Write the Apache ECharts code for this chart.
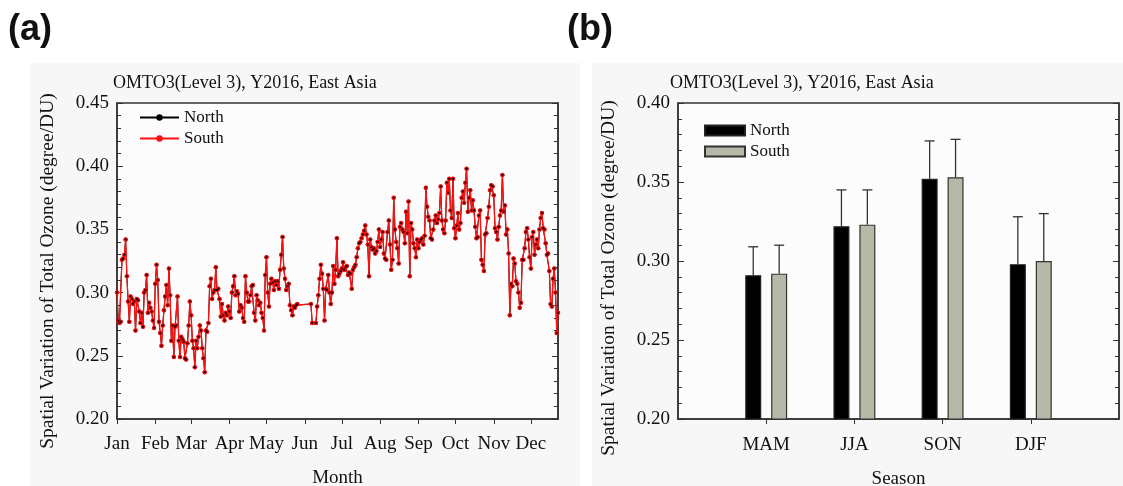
<!DOCTYPE html>
<html>
<head>
<meta charset="utf-8">
<script src="https://cdn.jsdelivr.net/npm/echarts@6/dist/echarts.min.js"></script>
<style>
  html, body { margin: 0; padding: 0; background: #fff; }
  #main { width: 1123px; height: 486px; }
</style>
</head>
<body>
<div id="main"></div>
<script>
// panel (a): daily spatial variation, day-of-year 1..358 (null = missing day)
const monthNames = ['Jan', 'Feb', 'Mar', 'Apr', 'May', 'Jun', 'Jul', 'Aug', 'Sep', 'Oct', 'Nov', 'Dec'];
const monthStartDay = [1, 32, 61, 92, 122, 153, 183, 214, 245, 275, 306, 336];

// North and South coincide at the resolution of the picture
const dailyOzone = [
  0.300, 0.278, 0.276, 0.277, 0.326, 0.327, 0.330, 0.342, 0.313, 0.293,
  0.277, 0.297, 0.295, 0.291, 0.293, 0.270, 0.295, 0.294, 0.285, 0.276,
  0.284, 0.273, 0.300, 0.302, 0.314, 0.284, 0.292, 0.288, 0.285, 0.278,
  0.272, 0.307, 0.322, 0.310, 0.277, 0.268, 0.258, 0.274, 0.286, 0.297,
  0.306, 0.290, 0.319, 0.298, 0.262, 0.274, 0.249, 0.273, 0.274, 0.297,
  0.262, 0.249, 0.265, 0.263, 0.261, 0.248, 0.247, 0.260, 0.274, 0.293,
  0.282, 0.262, 0.256, 0.241, 0.262, 0.256, 0.265, 0.274, 0.270, 0.256,
  0.248, 0.237, 0.270, 0.269, 0.276, 0.305, 0.311, 0.295, 0.300, 0.302,
  0.320, 0.302, 0.303, 0.295, 0.281, 0.291, 0.282, 0.278, 0.284, 0.282,
  0.289, 0.285, 0.280, 0.300, 0.305, 0.313, 0.298, 0.301, 0.299, 0.285,
  0.290, 0.288, 0.280, 0.277, 0.313, 0.300, 0.293, 0.293, 0.298, 0.305,
  0.306, 0.284, 0.278, 0.298, 0.294, 0.290, 0.292, 0.284, 0.280, 0.270,
  0.314, 0.328, 0.300, 0.289, 0.307, 0.311, 0.308, 0.302, 0.309, 0.306,
  0.309, 0.303, 0.318, 0.330, 0.344, 0.319, 0.311, 0.302, 0.305, 0.307,
  0.290, 0.286, 0.282, 0.289, 0.288, 0.290, 0.291, null, null, null,
  null, null, null, null, null, null, null, 0.291, 0.276, null,
  null, 0.276, 0.289, 0.298, 0.311, 0.322, 0.315, 0.303, 0.278, 0.303,
  0.302, 0.314, 0.300, 0.291, 0.300, 0.321, 0.307, 0.318, 0.343, 0.313,
  0.315, 0.317, 0.319, 0.324, 0.318, 0.320, 0.321, 0.314, 0.316, 0.315,
  0.303, 0.318, 0.320, 0.322, 0.328, 0.335, 0.339, 0.340, 0.343, 0.346,
  0.349, 0.353, 0.346, 0.338, 0.313, 0.342, 0.336, 0.334, 0.335, 0.331,
  0.333, 0.340, 0.350, 0.336, 0.342, 0.348, 0.331, 0.327, 0.326, 0.348,
  0.357, 0.338, 0.318, 0.326, 0.375, 0.350, 0.340, 0.335, 0.323, 0.352,
  0.355, 0.350, 0.348, 0.339, 0.364, 0.347, 0.372, 0.313, 0.355, 0.350,
  0.339, 0.335, 0.328, 0.342, 0.335, 0.340, 0.342, 0.343, 0.338, 0.345,
  0.383, 0.368, 0.360, 0.357, 0.343, 0.342, 0.350, 0.357, 0.361, 0.355,
  0.358, 0.363, 0.384, 0.357, 0.350, 0.347, 0.357, 0.387, 0.379, 0.390,
  0.365, 0.359, 0.390, 0.351, 0.343, 0.353, 0.363, 0.350, 0.355, 0.375,
  0.380, 0.371, 0.387, 0.398, 0.364, 0.375, 0.381, 0.365, 0.373, 0.365,
  0.352, 0.343, 0.344, 0.361, 0.365, 0.326, 0.322, 0.317, 0.346, 0.347,
  0.359, 0.368, 0.381, 0.385, 0.384, 0.377, 0.351, 0.348, 0.342, 0.352,
  0.361, 0.365, 0.393, 0.364, 0.369, 0.346, 0.350, 0.331, 0.282, 0.307,
  0.305, 0.327, 0.323, 0.309, 0.307, 0.300, 0.288, 0.292, 0.326, 0.326,
  0.335, 0.348, 0.351, 0.342, 0.328, 0.319, 0.344, 0.348, 0.330, 0.338,
  0.342, 0.335, 0.350, 0.359, 0.363, 0.351, 0.350, 0.339, 0.330, 0.331,
  0.317, 0.291, 0.289, 0.311, 0.319, 0.300, 0.268, 0.284
];

// panel (b): seasonal mean and standard deviation
const seasons = ['MAM', 'JJA', 'SON', 'DJF'];
const northMean = [0.291, 0.322, 0.352, 0.298];
const southMean = [0.292, 0.323, 0.353, 0.300];
const northStd = [0.018, 0.023, 0.024, 0.030];
const southStd = [0.018, 0.022, 0.024, 0.030];

const yTitle = 'Spatial Variation of Total Ozone (degree/DU)';
const plotTitle = 'OMTO3(Level 3), Y2016, East Asia';

const serif = 'Liberation Serif';
const axisColor = '#333';
const lastDay = dailyOzone.length;

const dailyPairs = dailyOzone.map((v, i) => [i + 1, v]);
const seasonSlots = [''].concat(seasons, ['']);
const padded = arr => [null].concat(arr, [null]);

const chart = echarts.init(document.getElementById('main'), null, { renderer: 'canvas' });

// nameShift pushes the rotated axis title down a little, as in the picture
function valueAxis(gridIndex, max, withLabels, nameShift) {
  return {
    type: 'value',
    gridIndex: gridIndex,
    position: withLabels ? 'left' : 'right',
    min: 0.2,
    max: max,
    interval: 0.05,
    axisLine: { show: true, lineStyle: { color: axisColor, width: 1.5 } },
    axisTick: { show: true, inside: true, length: 6, lineStyle: { color: axisColor } },
    minorTick: { show: true, splitNumber: 5, length: 4, lineStyle: { color: axisColor } },
    splitLine: { show: false },
    axisLabel: {
      show: withLabels,
      formatter: v => v.toFixed(2),
      fontFamily: serif, fontSize: 19, color: '#111', margin: 8
    },
    name: withLabels ? yTitle : '',
    nameLocation: 'middle',
    nameGap: 59,
    nameTextStyle: { fontFamily: serif, fontSize: 19.5, color: '#111', padding: [0, nameShift || 0, 0, 0] }
  };
}

// error bar whisker with cap, placed over each bar through the bar layout
function errorBarItem(params, api) {
  const layout = api.barLayout({ count: 2, barWidth: 16, barGap: '62%' });
  const which = api.value(3);
  const dx = layout[which].offsetCenter;
  const base = api.coord([api.value(0), api.value(1)]);
  const top = api.coord([api.value(0), api.value(2)]);
  const x = base[0] + dx;
  const style = { stroke: '#333', lineWidth: 1.3 };
  return {
    type: 'group',
    children: [
      { type: 'line', shape: { x1: x, y1: base[1], x2: x, y2: top[1] }, style: style },
      { type: 'line', shape: { x1: x - 5, y1: top[1], x2: x + 5, y2: top[1] }, style: style }
    ]
  };
}

const errorRows = [];
seasons.forEach((s, i) => {
  errorRows.push([i + 1, northMean[i], northMean[i] + northStd[i], 0]);
  errorRows.push([i + 1, southMean[i], southMean[i] + southStd[i], 1]);
});

const option = {
  backgroundColor: '#ffffff',
  animation: false,
  textStyle: { fontFamily: serif },
  graphic: {
    elements: [
      { type: 'rect', z: -10, shape: { x: 30, y: 63, width: 550, height: 423 }, style: { fill: '#f7f7f7' } },
      { type: 'rect', z: -10, shape: { x: 592, y: 63, width: 531, height: 423 }, style: { fill: '#f7f7f7' } },
      { type: 'text', left: 8, top: 12, style: { text: '(a)', font: 'bold 36px "Liberation Sans"', fill: '#111' } },
      { type: 'text', left: 567, top: 12, style: { text: '(b)', font: 'bold 36px "Liberation Sans"', fill: '#111' } },
      { type: 'text', left: 113, top: 74, style: { text: plotTitle, font: '18px "Liberation Serif"', fill: '#111' } },
      { type: 'text', left: 670, top: 74, style: { text: plotTitle, font: '18px "Liberation Serif"', fill: '#111' } }
    ]
  },
  grid: [
    { left: 117, top: 103, width: 441, height: 316, outerBoundsMode: 'none', show: true, backgroundColor: '#fcfcfc', borderColor: axisColor, borderWidth: 1.5 },
    { left: 678, top: 103, width: 441, height: 316, outerBoundsMode: 'none', show: true, backgroundColor: '#fcfcfc', borderColor: axisColor, borderWidth: 1.5 }
  ],
  legend: [
    {
      orient: 'vertical',
      left: 134, top: 104,
      itemWidth: 39, itemHeight: 8, itemGap: 4,
      textStyle: { fontFamily: serif, fontSize: 17, color: '#111' },
      data: ['North', 'South']
    },
    {
      orient: 'vertical',
      left: 699, top: 117,
      icon: 'rect',
      itemWidth: 40, itemHeight: 10, itemGap: 4,
      textStyle: { fontFamily: serif, fontSize: 17, color: '#111' },
      formatter: name => name.replace('(b)', ''),
      data: ['North(b)', 'South(b)']
    }
  ],
  xAxis: [
    {
      type: 'value',
      gridIndex: 0,
      min: 1,
      max: lastDay,
      axisLine: { show: true, lineStyle: { color: axisColor, width: 1.5 } },
      axisTick: { show: true, customValues: monthStartDay, length: 5, lineStyle: { color: axisColor } },
      axisLabel: {
        customValues: monthStartDay,
        formatter: v => monthNames[monthStartDay.indexOf(v)],
        fontFamily: serif, fontSize: 19, color: '#111', margin: 16
      },
      splitLine: { show: false },
      name: 'Month',
      nameLocation: 'middle',
      nameGap: 50,
      nameTextStyle: { fontFamily: serif, fontSize: 19, color: '#111' }
    },
    {
      type: 'category',
      gridIndex: 1,
      data: seasonSlots,
      boundaryGap: false,
      axisLine: { show: true, lineStyle: { color: axisColor, width: 1.5 } },
      axisTick: { show: true, length: 5, interval: i => i > 0 && i < seasonSlots.length - 1, lineStyle: { color: axisColor } },
      axisLabel: { interval: 0, fontFamily: serif, fontSize: 19, color: '#111', margin: 17 },
      splitLine: { show: false },
      name: 'Season',
      nameLocation: 'middle',
      nameGap: 51,
      nameTextStyle: { fontFamily: serif, fontSize: 19, color: '#111' }
    }
  ],
  yAxis: [
    valueAxis(0, 0.45, true, 20),
    valueAxis(0, 0.45, false),
    valueAxis(1, 0.40, true, 34),
    valueAxis(1, 0.40, false)
  ],
  series: [
    {
      name: 'North',
      type: 'line',
      xAxisIndex: 0, yAxisIndex: 0,
      data: dailyPairs,
      connectNulls: true,
      symbol: 'circle', symbolSize: 4,
      itemStyle: { color: '#000' },
      lineStyle: { color: '#000', width: 1 },
      z: 2
    },
    {
      name: 'South',
      type: 'line',
      xAxisIndex: 0, yAxisIndex: 0,
      data: dailyPairs,
      connectNulls: true,
      symbol: 'circle', symbolSize: 4.5,
      itemStyle: { color: '#ff1010' },
      lineStyle: { color: '#ff1010', width: 1.3 },
      z: 3
    },
    {
      // North markers peeking through the red South line
      type: 'scatter',
      xAxisIndex: 0, yAxisIndex: 0,
      data: dailyPairs,
      symbol: 'rect', symbolSize: 2,
      itemStyle: { color: '#000', opacity: 0.85 },
      silent: true,
      z: 4
    },
    {
      name: 'North(b)',
      type: 'bar',
      xAxisIndex: 1, yAxisIndex: 2,
      data: padded(northMean),
      barWidth: 16, barGap: '62%',
      clip: true,
      itemStyle: { color: '#000', borderColor: '#222', borderWidth: 1.2 }
    },
    {
      name: 'South(b)',
      type: 'bar',
      xAxisIndex: 1, yAxisIndex: 2,
      data: padded(southMean),
      barWidth: 16, barGap: '62%',
      clip: true,
      itemStyle: { color: '#b7b8a7', borderColor: '#333', borderWidth: 1.2 }
    },
    {
      type: 'custom',
      xAxisIndex: 1, yAxisIndex: 2,
      data: errorRows,
      renderItem: errorBarItem,
      silent: true,
      z: 1
    }
  ]
};

chart.setOption(option);
</script>
</body>
</html>
